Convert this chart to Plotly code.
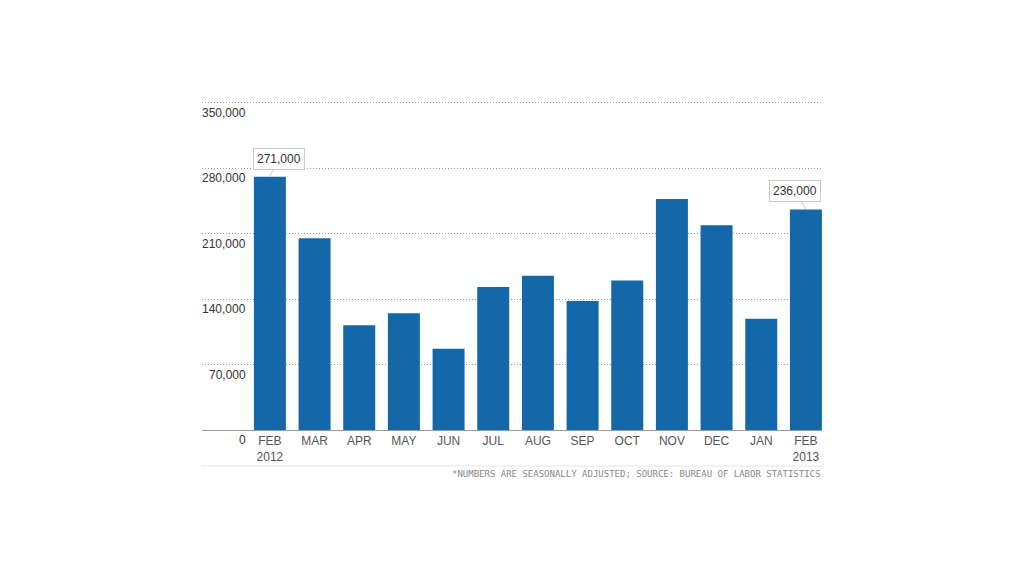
import plotly.graph_objects as go

months = ["FEB", "MAR", "APR", "MAY", "JUN", "JUL", "AUG", "SEP", "OCT", "NOV", "DEC", "JAN", "FEB"]
years = {0: "2012", 12: "2013"}
jobs = [271000, 205000, 112000, 125000, 87000, 153000, 165000, 138000, 160000, 247000, 219000, 119000, 236000]
y_ticks = [0, 70000, 140000, 210000, 280000, 350000]
y_tick_labels = ["0", "70,000", "140,000", "210,000", "280,000", "350,000"]
callouts = {0: "271,000", 12: "236,000"}
footnote = "*NUMBERS ARE SEASONALLY ADJUSTED; SOURCE: BUREAU OF LABOR STATISTICS"

x = list(range(len(months)))
tick_text = [m + ("<br>" + years[i] if i in years else "") for i, m in enumerate(months)]

fig = go.Figure(go.Bar(x=x, y=jobs, marker=dict(color="#1467a8", line=dict(width=0)), hoverinfo="skip"))

Y_MAX = 353000
fig.update_layout(
    width=1024, height=576,
    margin=dict(l=194, r=210, t=92, b=154),
    paper_bgcolor="white", plot_bgcolor="white",
    bargap=0.284, showlegend=False,
    font=dict(family="Liberation Sans, Arial, sans-serif", size=12, color="#333"),
)
fig.update_xaxes(
    range=[-1.52, 12.36], tickmode="array", tickvals=x, ticktext=tick_text,
    showgrid=False, showline=True, linecolor="#999", linewidth=1, ticks="",
    tickfont=dict(size=12, color="#555"), zeroline=False,
)
fig.update_yaxes(
    range=[0, Y_MAX], tickvals=y_ticks[1:], showticklabels=False, showgrid=True,
    gridcolor="#999", griddash="1px,2px", gridwidth=1, zeroline=False, showline=False,
)

for v, t in zip(y_ticks, y_tick_labels):
    fig.add_annotation(x=(245 - 202) / 620, xref="paper", y=v, yref="y", text=t, showarrow=False,
                       xanchor="right", yanchor="top", yshift=-1, xshift=3,
                       font=dict(size=12, color="#333"))

for i, t in callouts.items():
    ax = 9 if i == 0 else -11
    fig.add_annotation(x=i, y=jobs[i], text=t, showarrow=True, arrowhead=0, arrowwidth=1,
                       arrowcolor="#ccc", ax=ax, ay=-18, bgcolor="white", bordercolor="#ccc",
                       borderwidth=1, borderpad=3, font=dict(size=12, color="#333"))

fig.add_shape(type="line", xref="paper", yref="paper", x0=0, x1=1, y0=-36 / 330, y1=-36 / 330,
              line=dict(color="#e6e6e6", width=1))
fig.add_annotation(x=1, xref="paper", y=-36 / 330, yref="paper", text=footnote, showarrow=False,
                   xanchor="right", yanchor="top", yshift=-1,
                   font=dict(family="DejaVu Sans Mono", size=9, color="#888"))

fig.write_html("out.html")
